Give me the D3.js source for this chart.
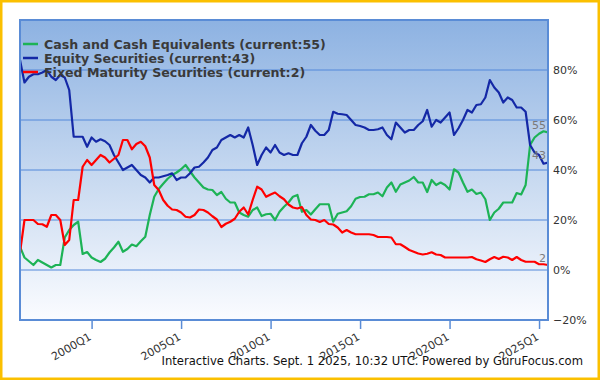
<!DOCTYPE html>
<html>
<head>
<meta charset="utf-8">
<script src="https://cdn.jsdelivr.net/npm/d3@7"></script>
<style>
    body { margin: 0; background: #fff; }
    svg { display: block; font-family: "DejaVu Sans", sans-serif; }
</style>
</head>
<body>
<svg width="600" height="380"></svg>
<script>
// quarterly % of portfolio, 1996Q1 onward
const cashData = [
    9.3, 5, 3.5, 2, 4, 3, 2, 1, 2, 2,
    13, 16, 18, 19.3, 6.4, 7.2, 5, 4, 3.2, 4.5,
    7, 9, 11.3, 7.3, 8.4, 10.2, 9.5, 11.5, 13.3, 22,
    29.3, 32.4, 34.5, 36.5, 38, 39, 40.3, 42, 39.5, 37,
    35, 33, 32.2, 32, 30, 31.2, 28.5, 27, 27, 23,
    22, 21.3, 24, 25, 21.6, 22.3, 22.5, 20, 23.3, 25.3,
    27, 29.3, 30, 23.3, 24, 22.2, 24.3, 26.3, 26.3, 26.3,
    19.3, 22.5, 23, 23.5, 25.5, 28.5, 29.2, 29.3, 30.3, 30.3,
    31, 29.5, 33, 35, 31.3, 34.2, 35, 35.8, 37.2, 35,
    35, 31.2, 36, 34, 35, 34, 32.2, 40.3, 39, 35,
    31.3, 32.2, 30.4, 31, 28.3, 20, 23, 24.5, 27, 27,
    27, 30.8, 30.2, 34, 50, 53, 54.5, 55.5, 55
];
const equityData = [
    84, 75, 77.3, 78.3, 78.3, 79, 80, 77.3, 76, 78,
    77, 72, 53.3, 53.3, 53.3, 49.3, 53, 51.3, 52.3, 51.5,
    50, 46, 43, 40, 41, 42, 40, 38, 37, 35,
    37, 37, 37.5, 38, 38.7, 36, 37, 37, 38.7, 41,
    41.3, 43, 45, 48, 49, 52, 53, 54, 53, 54,
    53, 57, 50, 42, 46, 49, 47, 50, 47, 46,
    46.7, 46, 46, 50.7, 53.3, 58, 55.7, 54, 54, 56,
    63.3, 62.5, 62.3, 62, 60, 58, 57.6, 57, 56, 56,
    56.3, 57, 54, 52.3, 59, 57, 55, 56, 56, 58,
    59.5, 64, 57.3, 60, 59, 61, 63, 54, 56.7, 60,
    64, 63, 66, 66.3, 69, 76, 73, 71, 67, 69,
    68, 65, 65, 63.3, 50, 47, 46, 42.5, 43
];
const fixedData = [
    7, 20, 20, 20, 18.4, 18.3, 17.3, 22, 22, 20,
    10, 12, 28, 28, 41.3, 44, 42, 44, 46, 45,
    43, 44.5, 46, 52, 52, 48.3, 50.4, 51.3, 49.5, 45,
    34, 32, 28, 25.7, 24.2, 24, 23, 21.3, 21, 22,
    24.2, 24, 23, 21.5, 20.2, 17.2, 18.5, 19.3, 20.5, 23.3,
    25, 22.2, 28, 33.3, 32.2, 29.3, 30.2, 31, 29.5, 28.3,
    26.2, 25, 24.6, 25.2, 22, 20.2, 20, 19.2, 20, 18.4,
    18.2, 17, 15, 16, 15, 14.3, 14.3, 14.3, 14.3, 14,
    13.2, 13.2, 13.2, 13, 10.3, 10.3, 9.2, 8, 7.3, 6.6,
    6.2, 6.5, 7.1, 6.2, 6, 5, 5, 5, 5, 5,
    5, 5.2, 4.3, 3.8, 3.2, 4.3, 5.2, 4.4, 5.3, 5,
    4, 5.2, 4, 3.3, 3.3, 3.3, 2.3, 2.3, 2
];
const startYear = 1996;
const quarters = cashData.map((d, i) => `${startYear + Math.floor(i / 4)}Q${i % 4 + 1}`);
const xTickLabels = ["2000Q1", "2005Q1", "2010Q1", "2015Q1", "2020Q1", "2025Q1"];
const yTickValues = [-20, 0, 20, 40, 60, 80];
const seriesNames = [
    "Cash and Cash Equivalents (current:55)",
    "Equity Securities (current:43)",
    "Fixed Maturity Securities (current:2)"
];
const currentLabels = ["55", "43", "2"];

window.addEventListener('load', () => {
    const svg = d3.select("svg"),
        margin = {top: 20, right: 52, bottom: 60, left: 20},
        width = +svg.attr("width") - margin.left - margin.right,
        height = +svg.attr("height") - margin.top - margin.bottom;

    const series = [
        {values: cashData, color: "#1db356", name: seriesNames[0], label: currentLabels[0]},
        {values: equityData, color: "#1428a6", name: seriesNames[1], label: currentLabels[1]},
        {values: fixedData, color: "#ff0000", name: seriesNames[2], label: currentLabels[2]}
    ];

    const x = d3.scalePoint().domain(quarters).range([0, width]);
    const y = d3.scaleLinear().domain([-20, 100]).range([height, 0]);

    // outer frame
    svg.append("rect")
        .attr("x", 1.25).attr("y", 1.25)
        .attr("width", 597.5).attr("height", 377.5)
        .attr("fill", "#fff")
        .attr("stroke", "#fbc000")
        .attr("stroke-width", 2.5);

    const defs = svg.append("defs");
    const grad = defs.append("linearGradient")
        .attr("id", "bg").attr("x1", 0).attr("y1", 0).attr("x2", 0).attr("y2", 1);
    grad.append("stop").attr("offset", "0%").attr("stop-color", "#8db2e2");
    grad.append("stop").attr("offset", "55%").attr("stop-color", "#cadbf1");
    grad.append("stop").attr("offset", "100%").attr("stop-color", "#fbfcff");
    defs.append("clipPath").attr("id", "clip")
        .append("rect").attr("width", width).attr("height", height);

    const g = svg.append("g")
        .attr("transform", "translate(" + margin.left + "," + margin.top + ")");

    g.append("rect")
        .attr("width", width)
        .attr("height", height)
        .attr("fill", "url(#bg)");

    // grid
    g.append("g")
        .selectAll("line")
        .data(yTickValues.slice(1))
        .enter().append("line")
        .attr("x1", 0).attr("x2", width)
        .attr("y1", d => y(d)).attr("y2", d => y(d))
        .attr("stroke", "#5288da")
        .attr("stroke-width", 1);

    // right axis labels
    const yAxis = d3.axisRight(y)
        .tickValues(yTickValues)
        .tickSize(0)
        .tickPadding(5)
        .tickFormat(d => d3.format("d")(d) + "%");
    g.append("g")
        .attr("class", "y axis")
        .attr("transform", "translate(" + width + ",0)")
        .call(yAxis)
        .call(a => a.select(".domain").remove())
        .selectAll("text")
        .attr("fill", "#333")
        .style("font-size", "11px")
        .style("font-family", "DejaVu Sans");

    // bottom axis
    const xAxis = d3.axisBottom(x)
        .tickValues(xTickLabels)
        .tickSize(9)
        .tickPadding(2);
    const xg = g.append("g")
        .attr("class", "x axis")
        .attr("transform", "translate(0," + height + ")")
        .call(xAxis);
    xg.select(".domain").remove();
    xg.selectAll(".tick line").attr("stroke", "#5a8cd6").attr("stroke-width", 1.5);
    xg.selectAll(".tick text")
        .attr("fill", "#333")
        .style("font-size", "11px")
        .style("font-family", "DejaVu Sans")
        .attr("text-anchor", "end")
        .attr("y", 0).attr("dy", 0)
        .attr("transform", "translate(0,19) rotate(-30)");

    // lines
    const line = d3.line()
        .x((d, i) => x(quarters[i]))
        .y(d => y(d));
    const lines = g.append("g").attr("clip-path", "url(#clip)");
    series.forEach(s => {
        lines.append("path")
            .datum(s.values)
            .attr("class", "line")
            .attr("fill", "none")
            .attr("stroke", s.color)
            .attr("stroke-width", 2.2)
            .attr("stroke-linejoin", "round")
            .attr("d", line);
    });

    // current value tags
    g.append("g")
        .selectAll("text")
        .data(series)
        .enter().append("text")
        .attr("x", width - 2)
        .attr("y", d => y(d.values[d.values.length - 1]) - 3.5)
        .attr("text-anchor", "end")
        .attr("fill", "#7a7a7a")
        .style("font-size", "11px")
        .text(d => d.label);

    // border
    g.append("rect")
        .attr("width", width)
        .attr("height", height)
        .attr("fill", "none")
        .attr("stroke", "#5a8cd6")
        .attr("stroke-width", 2);

    // legend
    const legend = svg.append("g").attr("transform", "translate(23,44)");
    series.forEach((s, i) => {
        legend.append("line")
            .attr("x1", 0).attr("x2", 15)
            .attr("y1", i * 14).attr("y2", i * 14)
            .attr("stroke", s.color)
            .attr("stroke-width", 2.5);
        legend.append("text")
            .attr("x", 21)
            .attr("y", i * 14 + 4.5)
            .attr("fill", "#3a3a3a")
            .style("font-size", "12.6px")
            .style("font-weight", "bold")
            .text(s.name);
    });

    svg.append("text")
        .attr("x", 583)
        .attr("y", 365)
        .attr("text-anchor", "end")
        .attr("fill", "#111")
        .style("font-size", "11.6px")
        .text("Interactive Charts. Sept. 1 2025, 10:32 UTC. Powered by GuruFocus.com");
});
</script>
</body>
</html>
